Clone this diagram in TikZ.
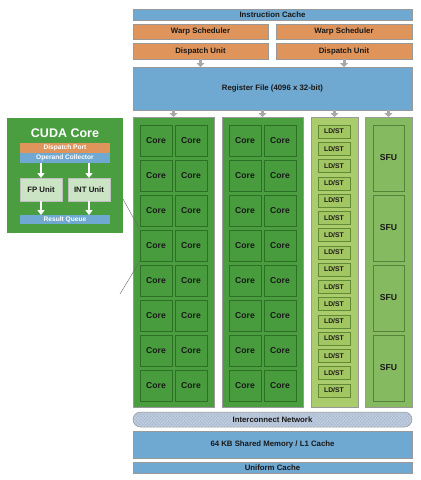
\documentclass[tikz,border=0pt]{standalone}
\usepackage{fontspec}
\setmainfont{Liberation Sans}
\usetikzlibrary{arrows.meta}
\definecolor{cblue}{RGB}{111,168,208}
\definecolor{corange}{RGB}{222,148,90}
\definecolor{cgreen}{RGB}{74,158,64}
\definecolor{ccore}{RGB}{72,156,62}
\definecolor{ccoreb}{RGB}{44,112,38}
\definecolor{cldcol}{RGB}{170,204,108}
\definecolor{cldcell}{RGB}{162,198,98}
\definecolor{cldb}{RGB}{96,138,52}
\definecolor{csfucol}{RGB}{134,186,96}
\definecolor{csfub}{RGB}{84,132,56}
\definecolor{cunit}{RGB}{202,228,196}
\definecolor{cgray}{RGB}{168,168,168}
\definecolor{cnet}{RGB}{168,186,210}
\definecolor{cnetl}{RGB}{196,208,224}
\definecolor{ctext}{RGB}{25,25,25}
\begin{document}
\begin{tikzpicture}[x=1pt,y=-1pt,
  box/.style={draw=black!40, line width=0.5pt, inner sep=0pt, outer sep=0pt, anchor=north west,
    font=\bfseries\fontsize{7.8}{9}\selectfont, text=ctext},
  corebox/.style={box, draw=ccoreb, fill=ccore, minimum width=32pt, minimum height=31pt,
    font=\bfseries\fontsize{8.6}{10}\selectfont},
  ldbox/.style={box, draw=cldb, fill=cldcell, minimum width=32pt, minimum height=13pt,
    font=\bfseries\fontsize{6.8}{8}\selectfont},
  sfubox/.style={box, draw=csfub, fill=csfucol, minimum width=31pt, minimum height=66pt,
    font=\bfseries\fontsize{8.6}{10}\selectfont},
  colbox/.style={box, minimum height=290pt},
  wtext/.style={text=white, font=\bfseries\fontsize{6.6}{8}\selectfont},
  garrow/.style={draw=cgray, line width=3pt, -{Triangle[width=8pt,length=4pt]}},
  warrow/.style={draw=white, line width=2pt, -{Triangle[width=7pt,length=5pt]}},
  zoomline/.style={draw=black!60, line width=0.4pt}]
\useasboundingbox (0,0) rectangle (421,480);
\fill[white] (0,0) rectangle (421,480);

% top blocks
\node[box, fill=cblue, minimum width=279pt, minimum height=11pt] (ic) at (133,9) {Instruction Cache};
\node[box, fill=corange, minimum width=135pt, minimum height=15pt] (ws1) at (133,24) {Warp Scheduler};
\node[box, fill=corange, minimum width=136pt, minimum height=15pt] (ws2) at (276,24) {Warp Scheduler};
\node[box, fill=corange, minimum width=135pt, minimum height=16pt] (du1) at (133,43) {Dispatch Unit};
\node[box, fill=corange, minimum width=136pt, minimum height=16pt] (du2) at (276,43) {Dispatch Unit};
\node[box, fill=cblue, minimum width=279pt, minimum height=43pt] (rf) at (133,67) {Register File (4096 x 32-bit)};

% columns
\node[colbox, fill=cgreen, minimum width=81pt] (col1) at (133,117) {};
\node[colbox, fill=cgreen, minimum width=81pt] (col2) at (222,117) {};
\node[colbox, fill=cldcol, minimum width=47pt] (col3) at (311,117) {};
\node[colbox, fill=csfucol, minimum width=47pt] (col4) at (365,117) {};

% zoom lines
\coordinate (zl1) at (123,199);
\coordinate (zl2) at (120,294);

% cores
\foreach \r in {0,...,7}{
  \node[corebox] (ca-\r) at (140,125+35*\r) {Core};
  \node[corebox] (cb-\r) at (175,125+35*\r) {Core};
  \node[corebox] (cc-\r) at (229,125+35*\r) {Core};
  \node[corebox] (cd-\r) at (264,125+35*\r) {Core};
}
\foreach \r in {0,...,15}{
  \node[ldbox] (ld-\r) at (318,125+17.25*\r) {LD/ST};
}
\foreach \r in {0,...,3}{
  \node[sfubox] (sf-\r) at (373,125+70*\r) {SFU};
}

\draw[zoomline] (zl1) -- (ca-3.north west);
\draw[zoomline] (ca-3.south west) -- (zl2);

% arrows
\draw[garrow] (du1.south) -- (du1.south |- rf.north);
\draw[garrow] (du2.south) -- (du2.south |- rf.north);
\foreach \c in {col1,col2,col3,col4}{
  \draw[garrow] (rf.south -| \c.north) -- (\c.north);
}

% interconnect network (cross-hatched, rounded)
\begin{scope}
  \clip[rounded corners=7.5pt] (133,412) rectangle (412,427);
  \fill[cnet] (133,412) rectangle (412,427);
  \foreach \k in {0,...,100}{
    \draw[cnetl, line width=0.6pt] (120+3.2*\k,430) -- (140+3.2*\k,409);
    \draw[cnetl, line width=0.6pt] (120+3.2*\k,409) -- (140+3.2*\k,430);
  }
\end{scope}
\node[box, fill=none, rounded corners=7.5pt, minimum width=279pt, minimum height=15pt] (net) at (133,412) {Interconnect Network};
\node[box, fill=cblue, minimum width=279pt, minimum height=27pt] (sm) at (133,431) {64 KB Shared Memory / L1 Cache};
\node[box, fill=cblue, minimum width=279pt, minimum height=11pt] (uc) at (133,462) {Uniform Cache};

% CUDA core detail
\node[box, draw=none, fill=cgreen, minimum width=116pt, minimum height=115pt] (cuda) at (7,118) {};
\node[text=white, font=\bfseries\fontsize{12.5}{14}\selectfont, inner sep=0pt] (title) at (65,133) {CUDA Core};
\node[box, draw=none, fill=corange, minimum width=90pt, minimum height=10pt, wtext] (dp) at (20,143) {Dispatch Port};
\node[box, draw=none, fill=cblue, minimum width=90pt, minimum height=10pt, wtext] (oc) at (20,153) {Operand Collector};
\node[box, draw=black!25, fill=cunit, minimum width=42pt, minimum height=23pt] (fp) at (20,178) {FP Unit};
\node[box, draw=black!25, fill=cunit, minimum width=42pt, minimum height=23pt] (int) at (68,178) {INT Unit};
\node[box, draw=none, fill=cblue, minimum width=90pt, minimum height=9pt, wtext] (rq) at (20,215) {Result Queue};
\draw[warrow] (oc.south -| fp.north) -- (fp.north);
\draw[warrow] (oc.south -| int.north) -- (int.north);
\draw[warrow] (fp.south) -- (fp.south |- rq.north);
\draw[warrow] (int.south) -- (int.south |- rq.north);
\end{tikzpicture}
\end{document}
